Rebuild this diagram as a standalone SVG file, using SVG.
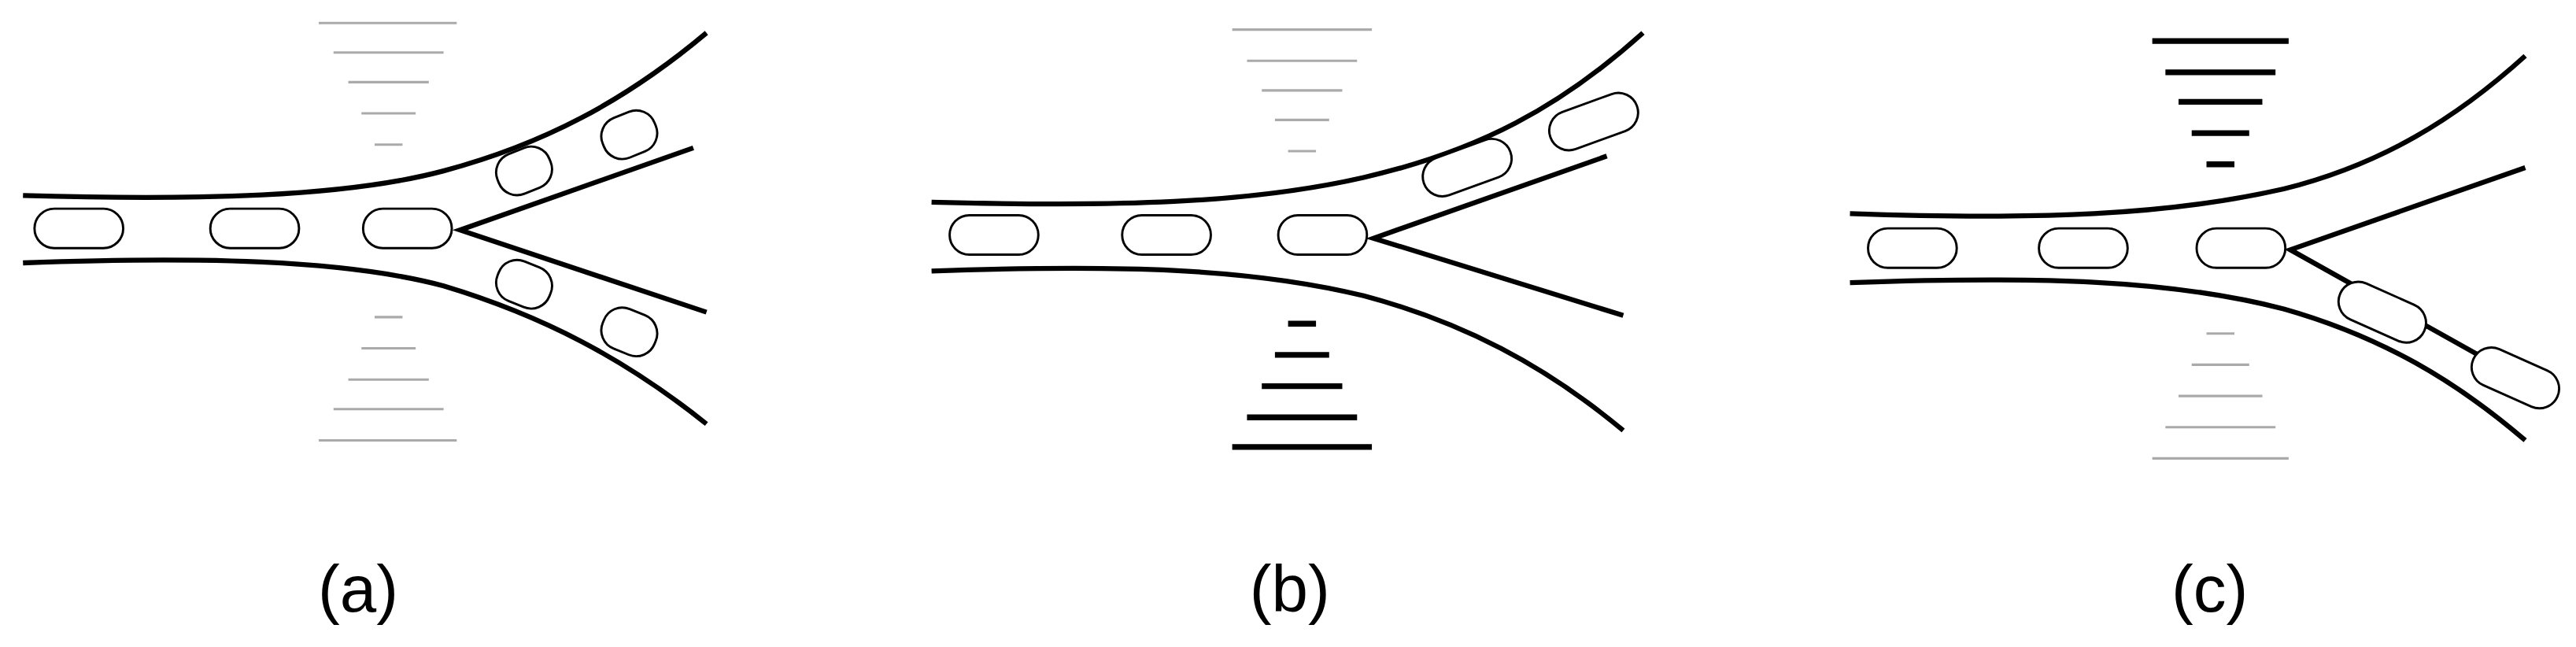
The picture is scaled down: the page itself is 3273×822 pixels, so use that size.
<svg xmlns="http://www.w3.org/2000/svg" width="3273" height="822" viewBox="0 0 3273 822">
<style>
.wall{fill:none;stroke:#000;stroke-width:3;stroke-linecap:butt}
.cap{fill:#fff;stroke:#000;stroke-width:1.4}
.g{stroke:#aaa;stroke-width:1.5}
.k{stroke:#000;stroke-width:3.5}
.lbl{font-family:"Liberation Sans",Arial,sans-serif;font-size:40px;fill:#000}
</style>
<rect width="3273" height="822" fill="#fff"/>
<g transform="scale(2.0875)">
<g id="panel-a">
<path class="wall" d="M14,119 C120,122 210,120 270,104 C330,88 380,62 430,20"/>
<path class="wall" d="M14,160 C120,156 210,158 270,174 C330,192 380,218 430,258"/>
<path class="wall" d="M422,90 L280,140 L430,190"/>
<rect class="cap" x="21" y="127" width="54" height="24" rx="12"/>
<rect class="cap" x="128" y="127" width="54" height="24" rx="12"/>
<rect class="cap" x="221" y="127" width="54" height="24" rx="12"/>
<rect class="cap" x="302" y="91" width="34" height="26" rx="12" transform="rotate(-22 319 104)"/>
<rect class="cap" x="366" y="69" width="34" height="26" rx="12" transform="rotate(-22 383 82)"/>
<rect class="cap" x="302" y="160" width="34" height="26" rx="12" transform="rotate(22 319 173)"/>
<rect class="cap" x="366" y="189" width="34" height="26" rx="12" transform="rotate(22 383 202)"/>
<g class="g"><line x1="194" y1="14" x2="278" y2="14"/><line x1="203" y1="32" x2="270" y2="32"/><line x1="212" y1="50" x2="261" y2="50"/><line x1="220" y1="69" x2="253" y2="69"/><line x1="228" y1="88" x2="245" y2="88"/>
<line x1="228" y1="193" x2="245" y2="193"/><line x1="220" y1="212" x2="253" y2="212"/><line x1="212" y1="231" x2="261" y2="231"/><line x1="203" y1="249" x2="270" y2="249"/><line x1="194" y1="268" x2="278" y2="268"/></g>
<text class="lbl" x="218" y="372" text-anchor="middle">(a)</text>
</g>
<g id="panel-b">
<path class="wall" d="M567,123 C680,126 760,124 830,108 C900,92 950,65 1000,20"/>
<path class="wall" d="M567,165 C680,161 760,163 830,180 C890,196 940,222 988,262"/>
<path class="wall" d="M978,95 L836,145 L988,192"/>
<rect class="cap" x="578" y="131" width="54" height="24" rx="12"/>
<rect class="cap" x="683" y="131" width="54" height="24" rx="12"/>
<rect class="cap" x="778" y="131" width="54" height="24" rx="12"/>
<rect class="cap" x="865" y="90" width="56" height="24" rx="12" transform="rotate(-20 893 102)"/>
<rect class="cap" x="942" y="62" width="56" height="24" rx="12" transform="rotate(-20 970 74)"/>
<g class="g"><line x1="750" y1="18" x2="835" y2="18"/><line x1="759" y1="37" x2="826" y2="37"/><line x1="768" y1="55" x2="817" y2="55"/><line x1="776" y1="73" x2="809" y2="73"/><line x1="784" y1="92" x2="801" y2="92"/></g>
<g class="k"><line x1="784" y1="197" x2="801" y2="197"/><line x1="776" y1="216" x2="809" y2="216"/><line x1="768" y1="235" x2="817" y2="235"/><line x1="759" y1="254" x2="826" y2="254"/><line x1="750" y1="272" x2="835" y2="272"/></g>
<text class="lbl" x="785" y="372" text-anchor="middle">(b)</text>
</g>
<g id="panel-c">
<path class="wall" d="M1126,130 C1240,134 1320,131 1390,115 C1450,100 1495,72 1537,34"/>
<path class="wall" d="M1126,172 C1240,168 1320,170 1390,188 C1450,205 1495,232 1537,268"/>
<path class="wall" d="M1537,102 L1394,152 L1537,232"/>
<rect class="cap" x="1137" y="139" width="54" height="24" rx="12"/>
<rect class="cap" x="1241" y="139" width="54" height="24" rx="12"/>
<rect class="cap" x="1337" y="139" width="54" height="24" rx="12"/>
<rect class="cap" x="1422" y="178" width="56" height="24" rx="12" transform="rotate(24 1450 190)"/>
<rect class="cap" x="1503" y="218" width="56" height="24" rx="12" transform="rotate(24 1531 230)"/>
<g class="k"><line x1="1310" y1="25" x2="1393" y2="25"/><line x1="1318" y1="44" x2="1385" y2="44"/><line x1="1326" y1="62" x2="1377" y2="62"/><line x1="1334" y1="81" x2="1369" y2="81"/><line x1="1343" y1="100" x2="1360" y2="100"/></g>
<g class="g"><line x1="1343" y1="203" x2="1360" y2="203"/><line x1="1334" y1="222" x2="1369" y2="222"/><line x1="1326" y1="241" x2="1377" y2="241"/><line x1="1318" y1="260" x2="1385" y2="260"/><line x1="1310" y1="279" x2="1393" y2="279"/></g>
<text class="lbl" x="1345" y="372" text-anchor="middle">(c)</text>
</g>
</g>
</svg>
